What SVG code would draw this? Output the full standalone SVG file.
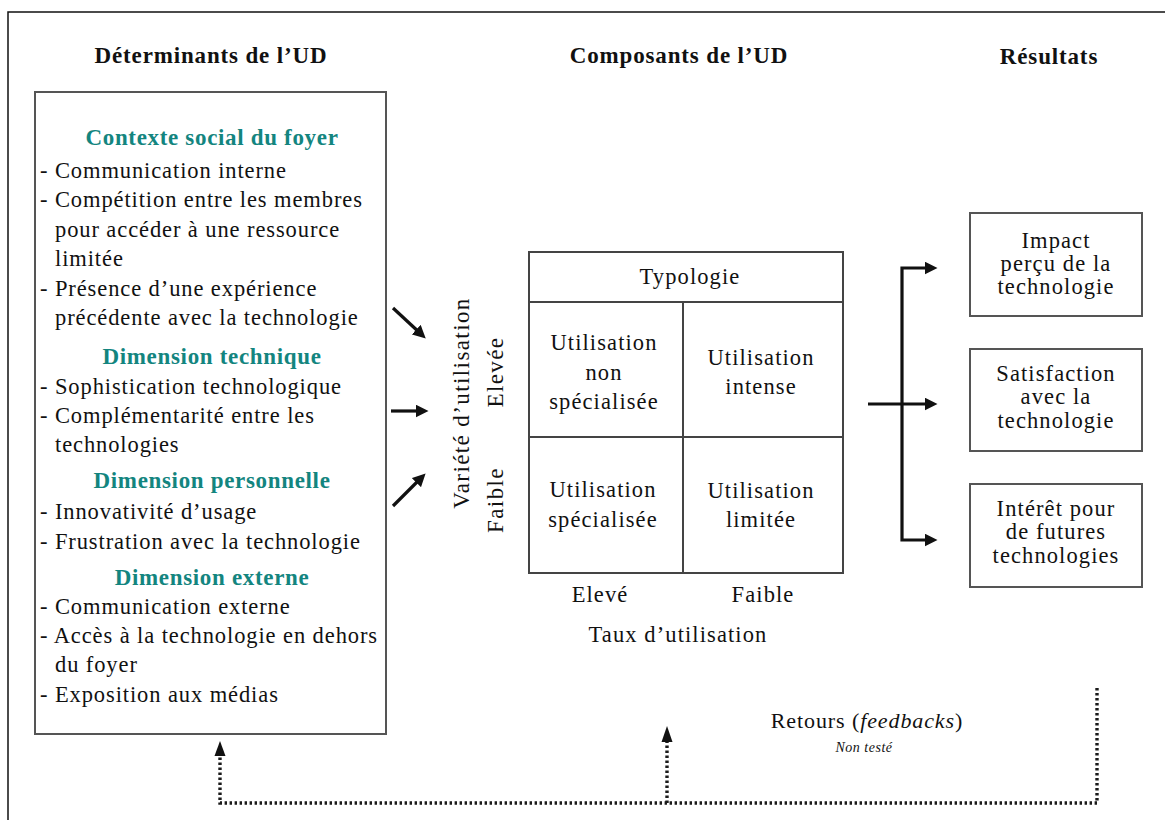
<svg xmlns="http://www.w3.org/2000/svg" width="1165" height="820" viewBox="0 0 1165 820">
  <style>
    .t { font-family: "Liberation Serif", "Times New Roman", serif; fill: #111; }
    .h { font-size: 23px; font-weight: bold; text-anchor: middle; letter-spacing: 0.85px; }
    .sec { font-size: 23px; font-weight: bold; fill: #13857f; text-anchor: middle; letter-spacing: 0.67px; }
    .b { font-size: 22.5px; letter-spacing: 0.9px; }
    .c { font-size: 22.5px; text-anchor: middle; letter-spacing: 1.1px; }
    .v { font-size: 23px; text-anchor: middle; letter-spacing: 1.4px; }
    .box { fill: #fff; stroke: #555; stroke-width: 2; }
    .grid { fill: none; stroke: #444; stroke-width: 2; }
    .solid { fill: none; stroke: #111; stroke-width: 3.2; }
    .dot { fill: none; stroke: #1a1a1a; stroke-width: 3.4; stroke-dasharray: 2.4 2.6; }
  </style>
  <defs>
    <marker id="ah" markerWidth="13" markerHeight="13" refX="5" refY="5" orient="auto" markerUnits="userSpaceOnUse" viewBox="0 0 10 10">
      <path d="M0,0 L10,5 L0,10 Z" fill="#111"/>
    </marker>
  </defs>
  <rect width="1165" height="820" fill="#fff"/>

  <!-- frame -->
  <path d="M8,820 L8,12 L1165,12" fill="none" stroke="#111" stroke-width="1.5"/>

  <!-- column headings -->
  <text class="t h" x="211" y="63">Déterminants de l’UD</text>
  <text class="t h" x="679" y="63">Composants de l’UD</text>
  <text class="t h" x="1049" y="64">Résultats</text>

  <!-- determinants box -->
  <g id="determinants">
    <rect class="box" x="35" y="92" width="351" height="642"/>
    <text class="t sec" x="212" y="145">Contexte social du foyer</text>
    <g class="t b">
      <text x="40" y="178">- Communication interne</text>
      <text x="40" y="207">- Compétition entre les membres</text>
      <text x="55" y="237">pour accéder à une ressource</text>
      <text x="55" y="266">limitée</text>
      <text x="40" y="296">- Présence d’une expérience</text>
      <text x="55" y="325">précédente avec la technologie</text>
    </g>
    <text class="t sec" x="212" y="364">Dimension technique</text>
    <g class="t b">
      <text x="40" y="394">- Sophistication technologique</text>
      <text x="40" y="423">- Complémentarité entre les</text>
      <text x="55" y="452">technologies</text>
    </g>
    <text class="t sec" x="212" y="488">Dimension personnelle</text>
    <g class="t b">
      <text x="40" y="519">- Innovativité d’usage</text>
      <text x="40" y="549">- Frustration avec la technologie</text>
    </g>
    <text class="t sec" x="212" y="585">Dimension externe</text>
    <g class="t b">
      <text x="40" y="614">- Communication externe</text>
      <text x="40" y="643">- Accès à la technologie en dehors</text>
      <text x="55" y="672">du foyer</text>
      <text x="40" y="702">- Exposition aux médias</text>
    </g>
  </g>

  <!-- typology matrix -->
  <g id="typologie">
    <rect class="grid" x="529" y="252" width="314" height="321"/>
    <line class="grid" x1="529" y1="302" x2="843" y2="302"/>
    <line class="grid" x1="529" y1="437" x2="843" y2="437"/>
    <line class="grid" x1="683" y1="302" x2="683" y2="573"/>
    <text class="t c" x="690" y="284">Typologie</text>
    <text class="t c" x="604" y="350">Utilisation</text>
    <text class="t c" x="604" y="380">non</text>
    <text class="t c" x="604" y="409">spécialisée</text>
    <text class="t c" x="761" y="365">Utilisation</text>
    <text class="t c" x="761" y="394">intense</text>
    <text class="t c" x="603" y="497">Utilisation</text>
    <text class="t c" x="603" y="527">spécialisée</text>
    <text class="t c" x="761" y="498">Utilisation</text>
    <text class="t c" x="761" y="527">limitée</text>
    <text class="t c" x="600" y="602">Elevé</text>
    <text class="t c" x="763" y="602">Faible</text>
    <text class="t c" x="678" y="642">Taux d’utilisation</text>
    <text class="t v" transform="translate(469,403) rotate(-90)">Variété d’utilisation</text>
    <text class="t v" transform="translate(503,372) rotate(-90)">Elevée</text>
    <text class="t v" transform="translate(503,500) rotate(-90)">Faible</text>
  </g>

  <!-- result boxes -->
  <g id="impact">
    <rect class="box" x="970" y="213" width="172" height="103"/>
    <text class="t c" x="1056" y="248">Impact</text>
    <text class="t c" x="1056" y="271">perçu de la</text>
    <text class="t c" x="1056" y="294">technologie</text>
  </g>
  <g id="satisfaction">
    <rect class="box" x="970" y="349" width="172" height="102"/>
    <text class="t c" x="1056" y="381">Satisfaction</text>
    <text class="t c" x="1056" y="404">avec la</text>
    <text class="t c" x="1056" y="428">technologie</text>
  </g>
  <g id="interet">
    <rect class="box" x="970" y="484" width="172" height="103"/>
    <text class="t c" x="1056" y="516">Intérêt pour</text>
    <text class="t c" x="1056" y="539">de futures</text>
    <text class="t c" x="1056" y="563">technologies</text>
  </g>

  <!-- feedback label -->
  <g id="retours">
    <text class="t" x="867" y="728" font-size="22" letter-spacing="0.9" text-anchor="middle">Retours (<tspan font-style="italic">feedbacks</tspan>)</text>
    <text class="t" x="864" y="752" font-size="14" letter-spacing="0.5" font-style="italic" text-anchor="middle">Non testé</text>
  </g>

  <!-- connectors -->
  <g id="connectors">
    <line class="solid" x1="393" y1="308" x2="421" y2="334" marker-end="url(#ah)"/>
    <line class="solid" x1="391" y1="411" x2="422" y2="411" marker-end="url(#ah)"/>
    <line class="solid" x1="393" y1="506" x2="421" y2="478" marker-end="url(#ah)"/>

    <line class="solid" x1="868" y1="404" x2="931" y2="404" marker-end="url(#ah)"/>
    <path class="solid" d="M931,268 L902,268 L902,540 L931,540" fill="none"/>
    <line class="solid" x1="929" y1="268" x2="931" y2="268" marker-end="url(#ah)"/>
    <line class="solid" x1="929" y1="540" x2="931" y2="540" marker-end="url(#ah)"/>

    <path class="dot" d="M1097,688 L1097,803 L220,803 L220,755"/>
    <line class="dot" x1="667" y1="803" x2="667" y2="741"/>
    <path d="M220,741 L214.5,756 L225.5,756 Z" fill="#111"/>
    <path d="M667,726 L661.5,742 L672.5,742 Z" fill="#111"/>
  </g>
</svg>
